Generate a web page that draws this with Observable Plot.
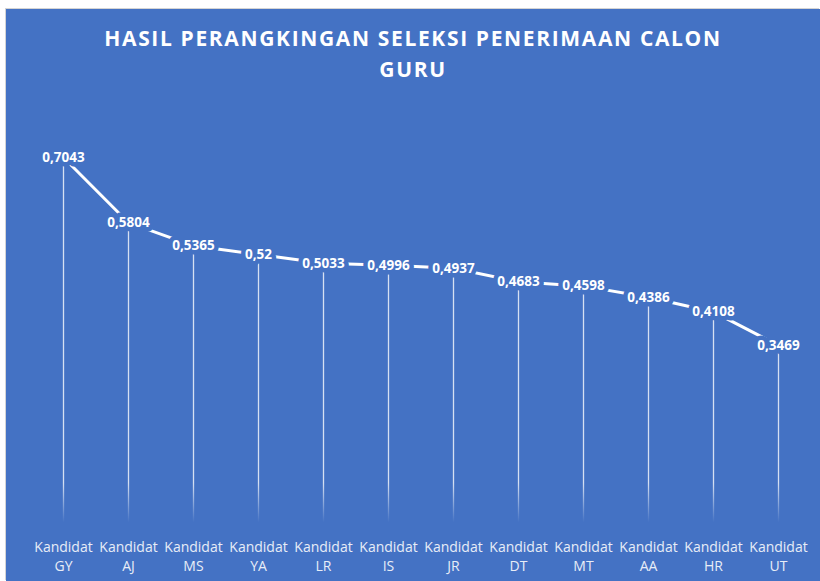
<!DOCTYPE html>
<html><head><meta charset="utf-8">
<script src="https://cdn.jsdelivr.net/npm/d3@7"></script>
<script src="https://cdn.jsdelivr.net/npm/@observablehq/plot@0.6"></script>
<style>
html,body{margin:0;padding:0;background:#fff;width:820px;height:581px;overflow:hidden}
#wrap{position:absolute;left:6px;top:9px;width:814px;height:572px;background:#4472C4;overflow:hidden;box-shadow:-1px -1px 0 #d4d4d4}
#title{position:absolute;left:0;top:14px;width:100%;text-align:center;font:700 21px "Open Sans",sans-serif;line-height:31px;color:#fff;letter-spacing:1.65px}
#chart{position:absolute;left:0;top:86px}
</style></head>
<body>
<div id="wrap">
<div id="title">HASIL PERANGKINGAN SELEKSI PENERIMAAN CALON<br>GURU</div>
<div id="chart"></div>
</div>
<script>
const names = ["GY","AJ","MS","YA","LR","IS","JR","DT","MT","AA","HR","UT"];
const values = [0.7043,0.5804,0.5365,0.52,0.5033,0.4996,0.4937,0.4683,0.4598,0.4386,0.4108,0.3469];
const prefix = "Kandidat";
const data = names.map((n,i)=>({name:n, value:values[i], label:String(values[i]).replace(".", ",")}));
const blue = "#4472C4";
const chart = Plot.plot({
  width: 814, height: 486,
  marginTop: 11.7, marginBottom: 53.5, marginLeft: 22.3, marginRight: 7.3,
  style: {background: "transparent", overflow: "visible"},
  x: {type: "point", domain: names, padding: 0.5, axis: null},
  y: {domain: [0, 0.8], axis: null},
  marks: [
    Plot.ruleX(data, {x: "name", y1: 0, y2: "value", insetTop: 12, stroke: "url(#fade)", strokeWidth: 1.3}),
    Plot.line(data, {x: "name", y: "value", stroke: "white", strokeWidth: 3}),
    Plot.text(data, {x: "name", y: "value", text: "label", fill: "white", stroke: blue, strokeWidth: 9, strokeLinejoin: "round", paintOrder: "stroke", fontSize: 13.5, fontWeight: "bold", fontFamily: "Open Sans"}),
    Plot.text(data, {x: "name", text: d => prefix, frameAnchor: "bottom", dy: 23.5, fill: "#e8edf7", fontSize: 14, fontFamily: "Open Sans"}),
    Plot.text(data, {x: "name", text: "name", frameAnchor: "bottom", dy: 43, fill: "#e8edf7", fontSize: 14, fontFamily: "Open Sans"})
  ]
});
const ys = chart.scale("y");
const defs = d3.select(chart).insert("defs", ":first-child");
const g = defs.append("linearGradient").attr("id", "fade").attr("gradientUnits", "userSpaceOnUse")
  .attr("x1", 0).attr("x2", 0).attr("y1", ys.apply(0.085)).attr("y2", ys.apply(0.01));
g.append("stop").attr("offset", 0).attr("stop-color", "white").attr("stop-opacity", 0.78);
g.append("stop").attr("offset", 1).attr("stop-color", "white").attr("stop-opacity", 0);
document.getElementById("chart").appendChild(chart);
</script>
</body></html>
